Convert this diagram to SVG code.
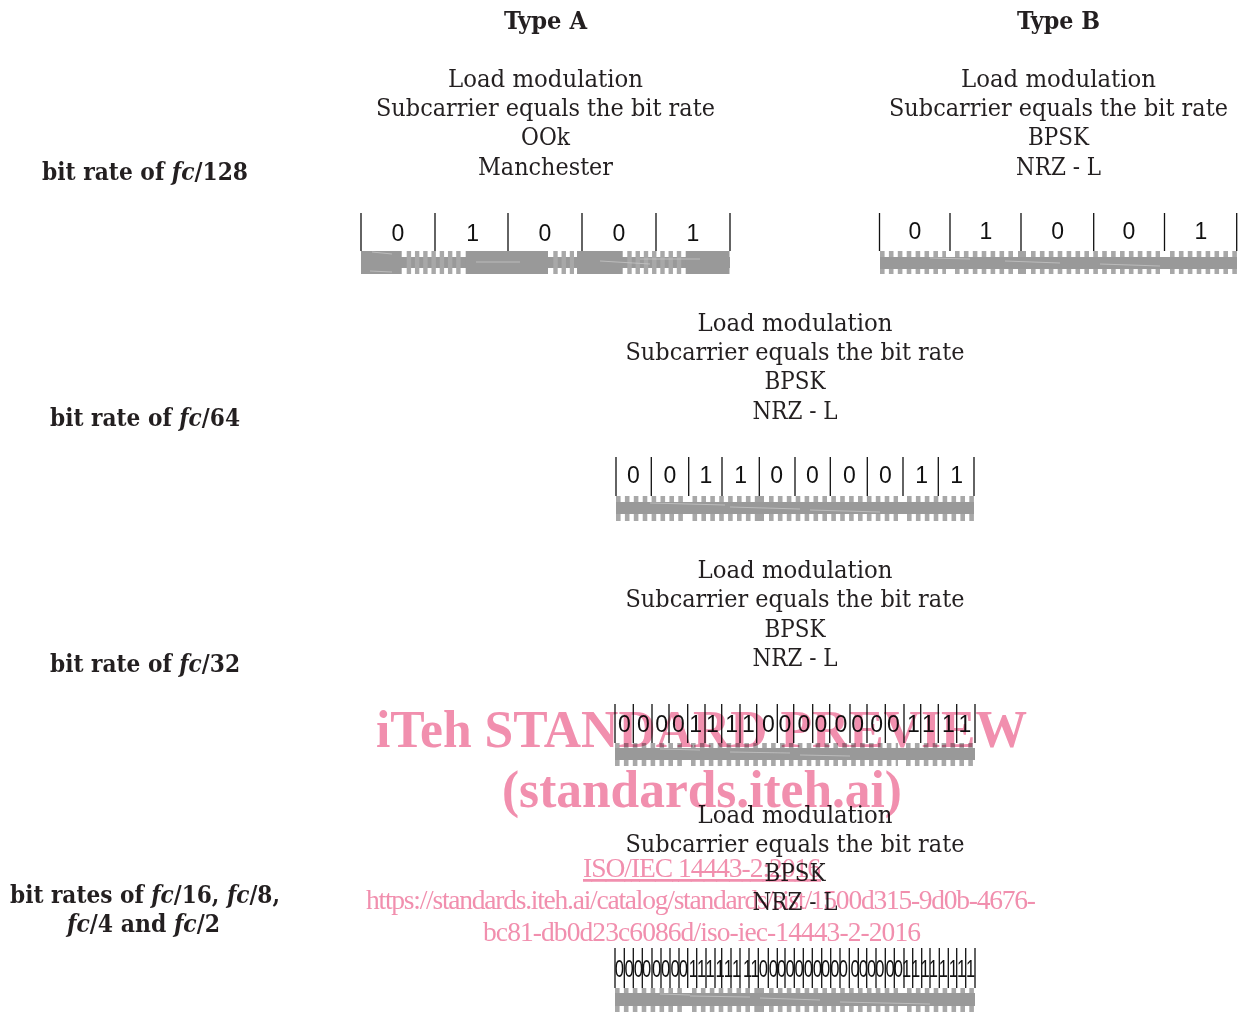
<svg xmlns="http://www.w3.org/2000/svg" width="1238" height="1012" viewBox="0 0 1238 1012">
<style>
text{font-family:"DejaVu Serif Condensed","DejaVu Serif",serif;fill:#231f20}
.b{font-size:25px;text-anchor:middle}
.h{font-size:25px;font-weight:bold;text-anchor:middle}
.l{font-size:25px;font-weight:bold}
.i{font-style:italic}
.d{font-family:"Liberation Sans",sans-serif;font-size:23px;text-anchor:middle;fill:#111}
.k{stroke:#111;stroke-width:1.3;fill:none}
.c{fill:#999}
.f{stroke:#c4c4c4;stroke-width:.8;fill:none}
.t{stroke:#a8a8a8;fill:none;stroke-dasharray:4.6 4.3}
.a{stroke:#a8a8a8;fill:none;stroke-dasharray:4.4 3.85}
.s{stroke:#a3a3a3;fill:none}
.w{font-family:"Liberation Serif",serif;fill:#f18fae;mix-blend-mode:multiply}
</style>
<rect width="1238" height="1012" fill="#fff"/>

<g id="headers">
<text class="h" x="545.500" y="29" textLength="83" lengthAdjust="spacingAndGlyphs">Type A</text>
<text class="h" x="1058.500" y="29" textLength="83" lengthAdjust="spacingAndGlyphs">Type B</text>
</g>

<g id="labels">
<text class="l" x="42" y="180" textLength="206" lengthAdjust="spacingAndGlyphs">bit rate of <tspan class="i">fc</tspan>/128</text>
<text class="l" x="50" y="426" textLength="190" lengthAdjust="spacingAndGlyphs">bit rate of <tspan class="i">fc</tspan>/64</text>
<text class="l" x="50" y="672" textLength="190" lengthAdjust="spacingAndGlyphs">bit rate of <tspan class="i">fc</tspan>/32</text>
<text class="l" x="10" y="903" textLength="270" lengthAdjust="spacingAndGlyphs">bit rates of <tspan class="i">fc</tspan>/16, <tspan class="i">fc</tspan>/8,</text>
<text class="l" x="67" y="932" textLength="153" lengthAdjust="spacingAndGlyphs"><tspan class="i">fc</tspan>/4 and <tspan class="i">fc</tspan>/2</text>
</g>

<g id="type-a-128">
<text class="b" x="545.500" y="87" textLength="195" lengthAdjust="spacingAndGlyphs">Load modulation</text>
<text class="b" x="545.500" y="116" textLength="339" lengthAdjust="spacingAndGlyphs">Subcarrier equals the bit rate</text>
<text class="b" x="545.500" y="145" textLength="49" lengthAdjust="spacingAndGlyphs">OOk</text>
<text class="b" x="545.500" y="175" textLength="135" lengthAdjust="spacingAndGlyphs">Manchester</text>
<path class="k" d="M361 213V251M435 213V251M508 213V251M582 213V251M656 213V251M730 213V251"/>
<text class="d" x="398 472.700 545 619 693" y="241">01001</text>
<rect class="c" x="361" y="257" width="369" height="11"/>
<rect class="c" x="361" y="251" width="40.700" height="23"/>
<rect class="c" x="465.700" y="251" width="82.300" height="23"/>
<rect class="c" x="577" y="251" width="45.700" height="23"/>
<rect class="c" x="685.700" y="251" width="43.800" height="23"/>
<path class="a" stroke-width="23" d="M406.700 262.500H462M553.300 262.500H574M627.300 262.500H682"/>
<path class="f" d="M372 252L392 254M476 262H520M600 261L650 264M640 259H700M370 271L392 272"/>
</g>

<g id="type-b-128">
<text class="b" x="1058.500" y="87" textLength="195" lengthAdjust="spacingAndGlyphs">Load modulation</text>
<text class="b" x="1058.500" y="116" textLength="339" lengthAdjust="spacingAndGlyphs">Subcarrier equals the bit rate</text>
<text class="b" x="1058.500" y="145" textLength="61" lengthAdjust="spacingAndGlyphs">BPSK</text>
<text class="b" x="1058.500" y="175" textLength="85" lengthAdjust="spacingAndGlyphs">NRZ - L</text>
<path class="k" d="M879.500 213V251M950 213V251M1021 213V251M1093.700 213V251M1164.500 213V251M1236.700 213V251"/>
<text class="d" x="915 986 1057.700 1129 1201" y="239">01001</text>
<path class="t" stroke-width="23" d="M880 262.500H946M955 262.500H1013M1031 262.500H1160M1170 262.500H1237"/>
<path class="s" stroke-width="23" d="M1018 262.500H1026"/>
<rect class="c" x="880" y="257" width="357" height="12"/>
<path class="f" d="M930 258L970 259M1005 261L1060 263M1100 264L1160 266"/>
</g>

<g id="bpsk-64">
<text class="b" x="795" y="331" textLength="195" lengthAdjust="spacingAndGlyphs">Load modulation</text>
<text class="b" x="795" y="360" textLength="339" lengthAdjust="spacingAndGlyphs">Subcarrier equals the bit rate</text>
<text class="b" x="795" y="389" textLength="61" lengthAdjust="spacingAndGlyphs">BPSK</text>
<text class="b" x="795" y="419" textLength="85" lengthAdjust="spacingAndGlyphs">NRZ - L</text>
<path class="k" d="M616 457V496M651.300 457V496M688.700 457V496M722 457V496M759.300 457V496M795 457V496M830.300 457V496M867.300 457V496M903 457V496M938.300 457V496M974 457V496"/>
<text class="d" x="633.300 670 706 740.700 776.700 812.300 849.300 885.300 921.700 956.700" y="483">0011000011</text>
<path class="t" stroke-width="25" d="M616 508.500H684M692.500 508.500H755M769 508.500H898M907 508.500H974"/>
<path class="s" stroke-width="25" d="M755 508.500H764"/>
<rect class="c" x="616" y="502" width="358" height="12"/>
<path class="f" d="M650 503L725 505M730 507L800 509M810 510L880 512"/>
</g>

<g id="bpsk-32">
<text class="b" x="795" y="578" textLength="195" lengthAdjust="spacingAndGlyphs">Load modulation</text>
<text class="b" x="795" y="607" textLength="339" lengthAdjust="spacingAndGlyphs">Subcarrier equals the bit rate</text>
<text class="b" x="795" y="637" textLength="61" lengthAdjust="spacingAndGlyphs">BPSK</text>
<text class="b" x="795" y="666" textLength="85" lengthAdjust="spacingAndGlyphs">NRZ - L</text>
<path class="k" d="M615 704V743M633.300 704V743M652 704V743M669 704V743M687.700 704V743M705 704V743M721.700 704V743M740 704V743M756.700 704V743M777.300 704V743M793.700 704V743M812.700 704V743M829.700 704V743M850 704V743M867 704V743M885.300 704V743M904 704V743M920.700 704V743M938.300 704V743M956.700 704V743M975 704V743"/>
<text class="d" x="624.300 643.300 661.700 678.300 695.700 712.300 731.700 748.300 768.300 785 804 821 841 857.700 876.700 893.300 913.300 928.300 948.300 965" y="732">00001111000000001111</text>
<path class="t" stroke-width="23" d="M615 754.500H683M691 754.500H898M906 754.500H975"/>
<rect class="c" x="615" y="748" width="360" height="12"/>
<path class="f" d="M660 749L700 750M730 752L790 753M800 755L850 756"/>
</g>

<g id="bpsk-16-8-4-2">
<text class="b" x="795" y="823" textLength="195" lengthAdjust="spacingAndGlyphs">Load modulation</text>
<text class="b" x="795" y="852" textLength="339" lengthAdjust="spacingAndGlyphs">Subcarrier equals the bit rate</text>
<text class="b" x="795" y="881" textLength="61" lengthAdjust="spacingAndGlyphs">BPSK</text>
<text class="b" x="795" y="910" textLength="85" lengthAdjust="spacingAndGlyphs">NRZ - L</text>
<path class="k" d="M615 948V988M624.300 948V988M633.300 948V988M642.300 948V988M652 948V988M661 948V988M670 948V988M679 948V988M687.700 948V988M696.700 948V988M706 948V988M715 948V988M721.700 948V988M731 948V988M740 948V988M749 948V988M758.300 948V988M768.300 948V988M777.300 948V988M785 948V988M794.300 948V988M803.300 948V988M812.300 948V988M821.700 948V988M830.700 948V988M840 948V988M849.300 948V988M858.300 948V988M866.700 948V988M876 948V988M885.300 948V988M894.300 948V988M904 948V988M912.700 948V988M921.700 948V988M930 948V988M939.300 948V988M948.300 948V988M956.700 948V988M965.700 948V988M975 948V988"/>
<text class="d" transform="scale(.72 1)" x="860.100 873.600 886.500 898.200 912.100 924.600 937.500 949 962.900 974.600 986.100 1000 1011.500 1023.200 1038.500 1048.600 1060.100 1074 1085.700 1097.200 1109.700 1122.600 1135.100 1146.800 1159.700 1171.300 1187.500 1199 1210.700 1222.200 1236.100 1247.600 1259.300 1271.800 1284.700 1296.300 1310.100 1324 1335.700 1348.200" y="977">0000000011111111000000000000000011111111</text>
<path class="t" stroke-width="24" d="M615 1000H683M692 1000H755M769 1000H898M907 1000H975"/>
<path class="s" stroke-width="24" d="M755 1000H764"/>
<rect class="c" x="615" y="993" width="360" height="13"/>
<path class="f" d="M660 994L690 995M690 996L750 997M760 998L820 1000M840 1002L930 1004"/>
</g>

<g id="watermark">
<text class="w" x="376" y="747" font-size="52" font-weight="bold" textLength="651" lengthAdjust="spacingAndGlyphs">iTeh STANDARD PREVIEW</text>
<text class="w" x="502" y="807" font-size="52" font-weight="bold" textLength="400" lengthAdjust="spacingAndGlyphs">(standards.iteh.ai)</text>
<text class="w" x="583" y="877" font-size="27.500" text-decoration="underline" textLength="238" lengthAdjust="spacing">ISO/IEC 14443-2:2016</text>
<text class="w" x="366" y="909" font-size="27.500" textLength="670" lengthAdjust="spacing">https://standards.iteh.ai/catalog/standards/sist/1500d315-9d0b-4676-</text>
<text class="w" x="483" y="941" font-size="27.500" textLength="438" lengthAdjust="spacing">bc81-db0d23c6086d/iso-iec-14443-2-2016</text>
</g>
</svg>
